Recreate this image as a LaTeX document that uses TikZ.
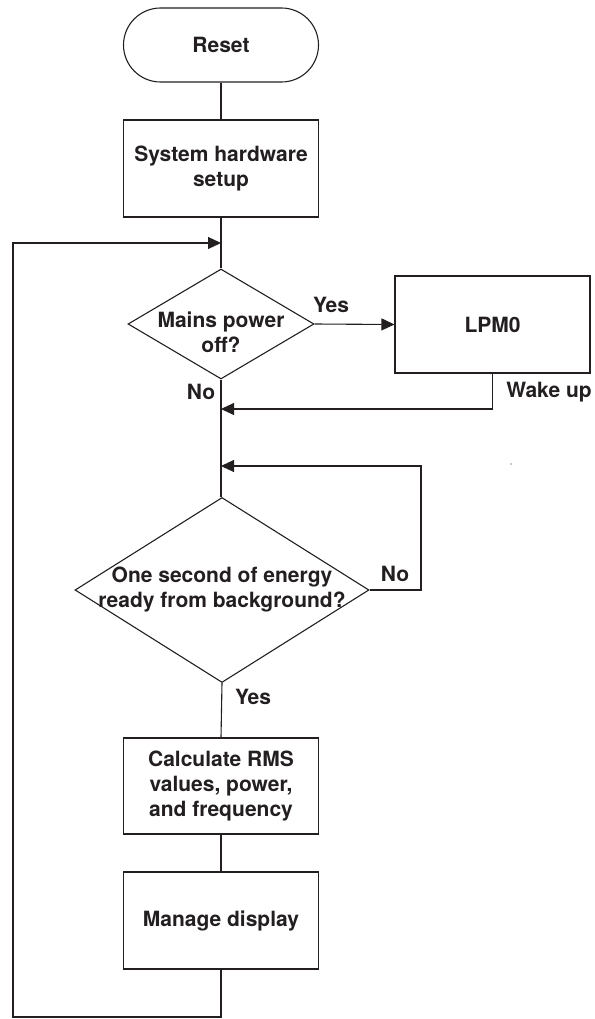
\documentclass[tikz,border=0pt]{standalone}
\usepackage{fontspec}
\setmainfont{TeX Gyre Heros}
\usetikzlibrary{arrows.meta,shapes.geometric,shapes.misc}
\definecolor{ink}{HTML}{231F20}
\begin{document}
\begin{tikzpicture}[x=1pt,y=-1pt,
  conn/.style={draw=ink, line width=1.1pt},
  txt/.style={font=\bfseries\fontsize{21}{25}\selectfont, text=ink, align=center, inner sep=0pt},
  procbox/.style={rectangle, draw=ink, line width=1.1pt, minimum width=195pt, minimum height=97pt, inner sep=0pt, txt},
  termbox/.style={rounded rectangle, draw=ink, line width=1.1pt, minimum width=195pt, minimum height=74pt, inner sep=0pt, txt},
  decbox/.style={diamond, draw=ink, line width=1.1pt, inner sep=0pt},
  lbl/.style={txt},
  arr/.style={conn, -{Triangle[length=13pt,width=12pt]}}
]
\useasboundingbox (0,0) rectangle (594,1019);

% nodes
\node[termbox] (reset) at (221,45) {Reset};
\node[procbox] (setup) at (221,168.5) {System hardware\\setup};
\node[decbox, minimum width=186pt, minimum height=110pt] (d1) at (221,324) {};
\node[txt] (d1t) at (221,332) {Mains power\\off?};
\node[procbox] (lpm) at (492.5,324.5) {LPM0};
\node[decbox, minimum width=294pt, minimum height=185pt] (d2) at (222,590) {};
\node[txt] (d2t) at (222,590) {One second of energy\\ready from background?};
\node[procbox, minimum height=96pt] (calc) at (221,786) {Calculate RMS\\values, power,\\and frequency};
\node[procbox] (manage) at (221,920.5) {Manage display};

% labels
\node[lbl] (yes1) at (331,305) {Yes};
\node[lbl] (no1) at (201,392) {No};
\node[lbl] (wake) at (549,392) {Wake up};
\node[lbl] (no2) at (395,574) {No};
\node[lbl] (yes2) at (253,697) {Yes};

% junction coordinates
\coordinate (j0) at (221,243);
\coordinate (j1) at (221,409);
\coordinate (j2) at (221,466);
\coordinate (nc) at (421,466);
\coordinate (b2) at (13,1017);

% connectors
\draw[conn] (reset.south) -- (setup.north);
\draw[conn] (setup.south) -- (d1.north);
\draw[arr] (d1.east) -- (lpm.west);
\draw[arr] (lpm.south) |- (j1);
\draw[conn] (d1.south) -- (d2.north -| d1.south);
\draw[arr] (d2.east) -| (nc) -- (j2);
\draw[conn] (d2.south) -- (calc.north);
\draw[conn] (calc.south) -- (manage.north);
\draw[arr] (manage.south) |- (b2) |- (j0);

% stray dot
\fill[ink] (511,464) circle (0.7pt);
\end{tikzpicture}
\end{document}
